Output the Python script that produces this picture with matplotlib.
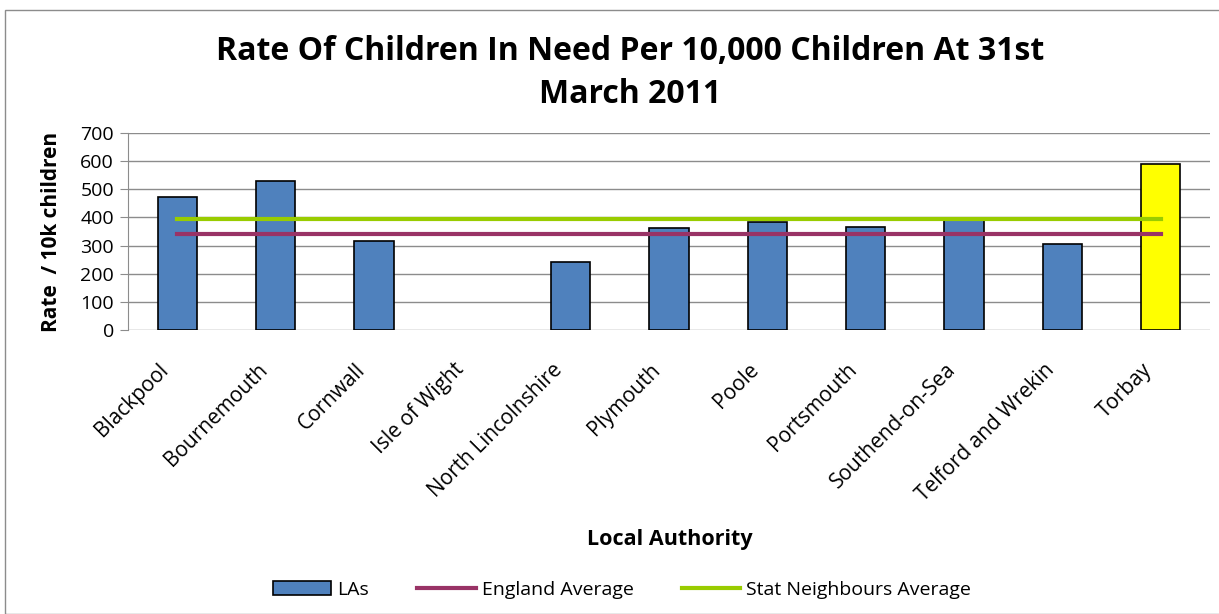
import matplotlib
matplotlib.use("Agg")
import matplotlib.pyplot as plt
from matplotlib.patches import Rectangle, Patch
from matplotlib.lines import Line2D
from matplotlib.transforms import ScaledTranslation
import numpy as np

categories = ["Blackpool", "Bournemouth", "Cornwall", "Isle of Wight", "North Lincolnshire",
              "Plymouth", "Poole", "Portsmouth", "Southend-on-Sea", "Telford and Wrekin", "Torbay"]
rates = [473, 531, 315, np.nan, 242, 362, 383, 366, 399, 307, 590]
england_avg = [341] * len(categories)
stat_neigh_avg = [394] * len(categories)
bar_colors = ["#4F81BD"] * 10 + ["#FFFF00"]

plt.rcParams['font.family'] = ['Open Sans', 'DejaVu Sans']

fig = plt.figure(figsize=(12.19, 6.14), dpi=100)
ax = fig.add_axes([128/1219, 1 - 330/614, (1210-128)/1219, (330-133)/614])

x = np.arange(len(categories))
vals = np.nan_to_num(np.array(rates, dtype=float), nan=0.0)
mask = ~np.isnan(np.array(rates, dtype=float))
ax.bar(x[mask], vals[mask], width=0.4, color=[c for c, m in zip(bar_colors, mask) if m],
       edgecolor="black", linewidth=1.2, zorder=3)
ax.plot(x, england_avg, color="#993366", linewidth=3, zorder=4)
ax.plot(x, stat_neigh_avg, color="#99CC00", linewidth=3, zorder=4)

ax.set_xlim(-0.5, len(categories) - 0.5)
ax.set_ylim(0, 700)
ax.set_yticks(range(0, 701, 100))
ax.yaxis.grid(True, color="#8c8c8c", linewidth=1, zorder=0)
ax.set_axisbelow(True)
for s in ["top", "right", "bottom"]:
    ax.spines[s].set_visible(False)
ax.spines["left"].set_color("#8c8c8c")
ax.tick_params(axis="y", length=6, color="#8c8c8c", labelsize=14, pad=4)
ax.tick_params(axis="x", length=0, labelsize=15, pad=21)
ax.set_xticks(x)
ax.set_xticklabels(categories, rotation=45, ha="right", rotation_mode="anchor")
offset = ScaledTranslation(-19/100, 0, fig.dpi_scale_trans)
for lbl in ax.get_xticklabels():
    lbl.set_transform(lbl.get_transform() + offset)
ax.set_ylabel("Rate  / 10k children", fontsize=15, fontweight="bold", labelpad=13)

fig.text(630/1219, 1 - 73/614, "Rate Of Children In Need Per 10,000 Children At 31st\nMarch 2011",
         ha="center", va="center", fontsize=23, fontweight="bold", linespacing=1.38)
fig.text(670/1219, 1 - 540/614, "Local Authority", ha="center", va="center",
         fontsize=15.5, fontweight="bold")

handles = [Patch(facecolor="#4F81BD", edgecolor="black", linewidth=1.2),
           Line2D([0], [0], color="#993366", linewidth=3),
           Line2D([0], [0], color="#99CC00", linewidth=3)]
fig.legend(handles, ["LAs", "England Average", "Stat Neighbours Average"],
           loc="center", bbox_to_anchor=(622/1219, 1 - 590/614), ncol=3, frameon=False,
           fontsize=14, handlelength=3, columnspacing=2.5, handletextpad=0.3)

fig.patches.append(Rectangle((5/1219, 0), 1.2, 1 - 10/614, transform=fig.transFigure,
                             fill=False, edgecolor="#8c8c8c", linewidth=1))

fig.savefig("out.png", dpi=100)
